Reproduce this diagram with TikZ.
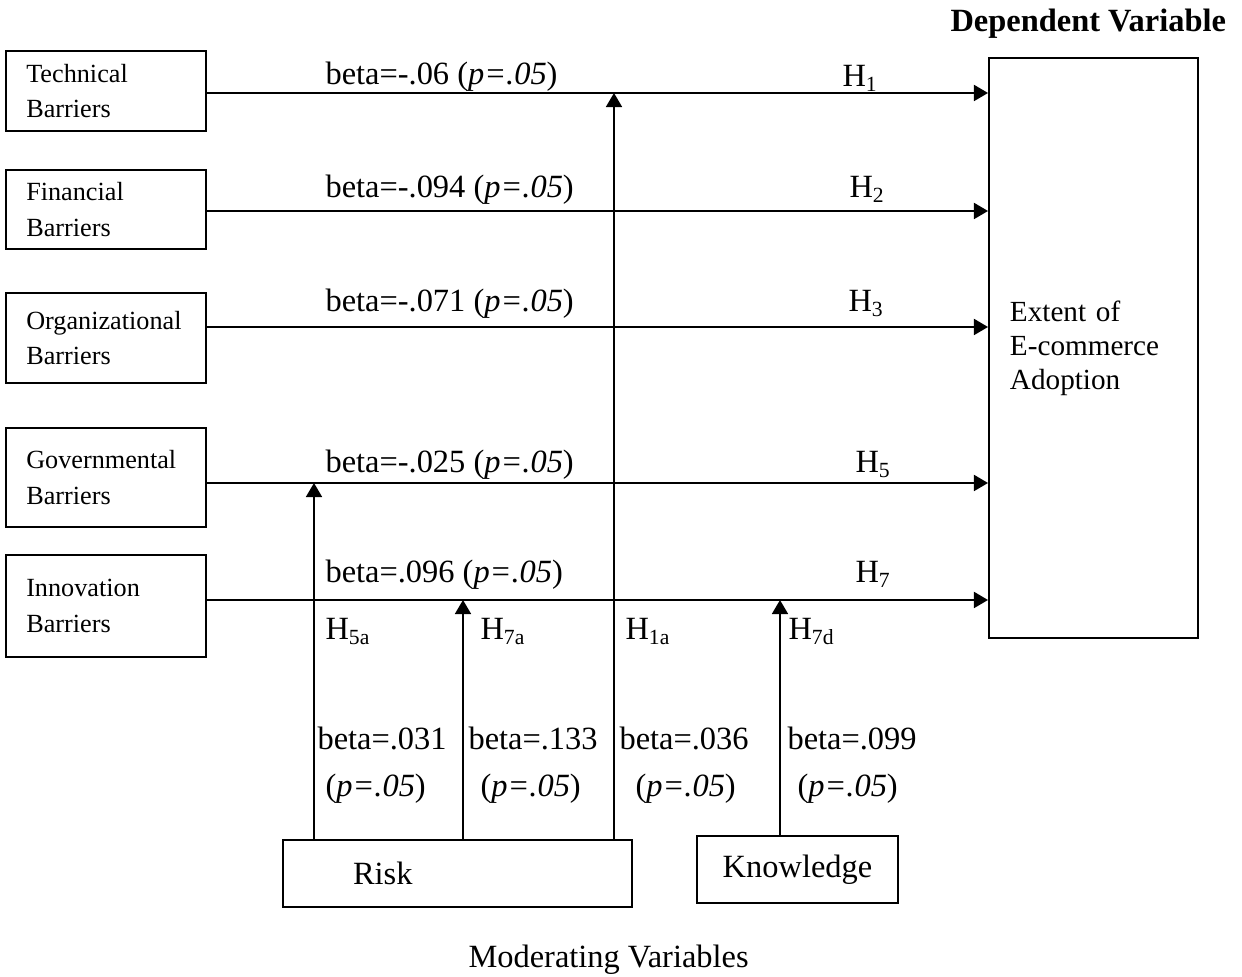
\documentclass[tikz,border=0pt]{standalone}
\usepackage{fontspec}
\setmainfont{Liberation Serif}
\usetikzlibrary{arrows.meta}
\tikzset{
  arr/.style={line width=0.75pt, -{Triangle[length=5.2pt,width=5.9pt]}},
  barrier/.style={draw, line width=0.75pt, rectangle, inner sep=0pt, minimum width=74pt, text width=59pt, align=left, font=\fontsize{9.7}{13}\selectfont},
  modbox/.style={draw, line width=0.75pt, rectangle, inner sep=0pt, minimum height=24.8pt, font=\fontsize{12}{14}\selectfont},
  lbl/.style={anchor=base west, inner sep=0pt, font=\fontsize{12}{14}\selectfont},
}
\begin{document}
\begin{tikzpicture}[x=0.37pt,y=-0.37pt]
            \useasboundingbox (0,0) rectangle (1242,977);
            \node [barrier, minimum height=29.6pt] (tech) at (106,91) {Technical\\Barriers};
            \node [barrier, minimum height=29.2pt] (fin) at (106,209.5) {Financial\\Barriers};
            \node [barrier, minimum height=33.3pt] (org) at (106,338) {Organizational\\Barriers};
            \node [barrier, minimum height=36.6pt] (gov) at (106,477.5) {Governmental\\Barriers};
            \node [barrier, minimum height=37.7pt] (inno) at (106,606) {Innovation\\Barriers};
            \node [draw, line width=0.75pt, inner sep=0pt, minimum width=77.3pt, minimum height=214.6pt, text width=61.8pt, align=left, font=\fontsize{10.8}{12.6}\selectfont] (dep) at (1093.5,348) {Extent of\\E-commerce\\Adoption};
            \node [modbox, minimum width=129.1pt, text width=77.3pt, align=left] (risk) at (457.5,873.5) {Risk};
            \node [modbox, minimum width=74.4pt] (know) at (797.5,869.5) {Knowledge};
            \node [anchor=base west, inner sep=0pt, font=\fontsize{12}{14}\selectfont\bfseries] (dvtitle) at (950,32) {Dependent Variable};
            \node [lbl] (mvtitle) at (468,968) {Moderating Variables};
            \coordinate (l1) at (0,93);
            \coordinate (l2) at (0,211);
            \coordinate (l3) at (0,327);
            \coordinate (l5) at (0,483);
            \coordinate (l7) at (0,600);
            \coordinate (m5a) at (314,0);
            \coordinate (m7a) at (463,0);
            \coordinate (m1a) at (614,0);
            \coordinate (m7d) at (780,0);
            \draw [arr] (tech.east |- l1) -- (dep.west |- l1);
            \draw [arr] (fin.east |- l2) -- (dep.west |- l2);
            \draw [arr] (org.east |- l3) -- (dep.west |- l3);
            \draw [arr] (gov.east |- l5) -- (dep.west |- l5);
            \draw [arr] (inno.east |- l7) -- (dep.west |- l7);
            \draw [arr] (m5a |- risk.north) -- (m5a |- l5);
            \draw [arr] (m7a |- risk.north) -- (m7a |- l7);
            \draw [arr] (m1a |- risk.north) -- (m1a |- l1);
            \draw [arr] (m7d |- know.north) -- (m7d |- l7);
            \node [lbl] (b1) at (325,85) {beta=-.06 (\textit{p=.05})};
            \node [lbl] (b2) at (325,198) {beta=-.094 (\textit{p=.05})};
            \node [lbl] (b3) at (325,312) {beta=-.071 (\textit{p=.05})};
            \node [lbl] (b5) at (325,473) {beta=-.025 (\textit{p=.05})};
            \node [lbl] (b7) at (325,583) {beta=.096 (\textit{p=.05})};
            \node [lbl] (h1) at (842,87) {H\textsubscript{1}};
            \node [lbl] (h2) at (849,198) {H\textsubscript{2}};
            \node [lbl] (h3) at (848,312) {H\textsubscript{3}};
            \node [lbl] (h5) at (855,473) {H\textsubscript{5}};
            \node [lbl] (h7) at (855,583) {H\textsubscript{7}};
            \node [lbl] (h5a) at (325,640) {H\textsubscript{5a}};
            \node [lbl] (h7a) at (480,640) {H\textsubscript{7a}};
            \node [lbl] (h1a) at (625,640) {H\textsubscript{1a}};
            \node [lbl] (h7d) at (788,640) {H\textsubscript{7d}};
            \node [lbl] (r5a) at (317,750) {beta=.031};
            \node [lbl] (p5a) at (325,797) {(\textit{p=.05})};
            \node [lbl] (r7a) at (468,750) {beta=.133};
            \node [lbl] (p7a) at (480,797) {(\textit{p=.05})};
            \node [lbl] (r1a) at (619,750) {beta=.036};
            \node [lbl] (p1a) at (635,797) {(\textit{p=.05})};
            \node [lbl] (r7d) at (787,750) {beta=.099};
            \node [lbl] (p7d) at (797,797) {(\textit{p=.05})};
        \end{tikzpicture}
\end{document}
